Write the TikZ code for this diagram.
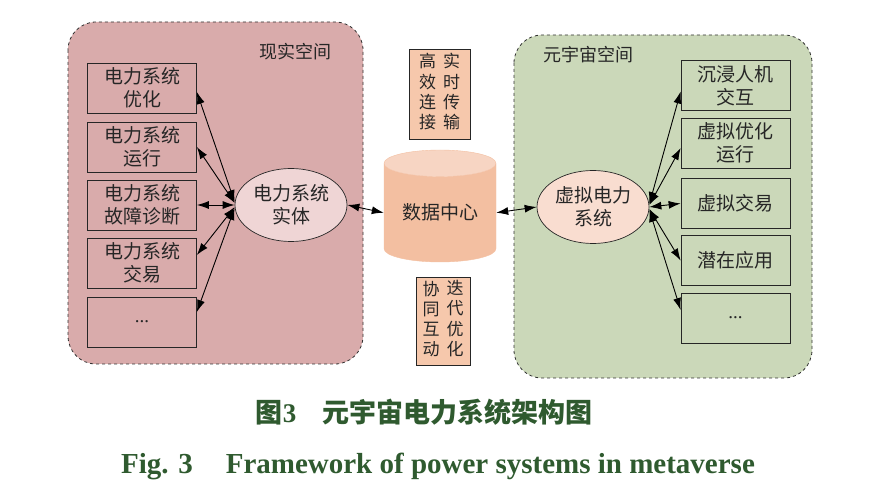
\documentclass[tikz,border=0pt]{standalone}
\usepackage{fontspec}
\setmainfont{Liberation Serif}
\newfontfamily\cjk{Noto Sans CJK SC}
\usetikzlibrary{shapes.geometric,arrows.meta,positioning}
\definecolor{realbg}{HTML}{D9ABAB}
\definecolor{metabg}{HTML}{CBD8B9}
\definecolor{realell}{HTML}{EFD5D5}
\definecolor{metaell}{HTML}{F9DDD0}
\definecolor{dcbody}{HTML}{F3BFA1}
\definecolor{dctop}{HTML}{F7D5C3}
\definecolor{tagfill}{HTML}{F6C8AC}
\definecolor{capgreen}{HTML}{2F5A2F}
\newcommand{\vcol}[1]{\begin{tabular}{@{}c@{}}#1\end{tabular}}
\tikzset{%
	spacebox/.style={draw=black!80, dashed, line width=0.8pt, rounded corners=28pt},
	spacename/.style={font=\cjk\fontsize{18}{22}\selectfont, text=black!85},
	appbox/.style={draw=black!85, line width=0.7pt, align=center, inner sep=0pt, minimum width=109pt, minimum height=50pt, text=black!85, font=\cjk\fontsize{19}{23}\selectfont},
	coreell/.style={ellipse, draw=black!85, line width=0.7pt, align=center, inner sep=0pt, minimum width=112pt, minimum height=73pt, text=black!85, font=\cjk\fontsize{19}{23}\selectfont},
	tagbox/.style={draw=black!85, line width=0.7pt, fill=tagfill, inner sep=0pt, text=black!85, font=\cjk\fontsize{17}{20}\selectfont},
	link/.style={draw=black, line width=0.9pt, {Latex[length=12pt,width=8pt]}-{Latex[length=12pt,width=8pt]}}}

\begin{document}
\begin{tikzpicture}[x=1pt,y=-1pt]
	\useasboundingbox (0,0) rectangle (876,494);
	% the two spaces
	\draw[spacebox, fill=realbg] (68,22) rectangle (363,364);
	\draw[spacebox, fill=metabg] (514,35) rectangle (812,378);
	\node[spacename] (realname) at (295,52) {现实空间};
	\node[spacename] (metaname) at (588,55) {元宇宙空间};
	
	% real space
	\node[appbox] (r1) at (142,88) {电力系统\\优化};
	\node[appbox] (r2) at (142,147) {电力系统\\运行};
	\node[appbox] (r3) at (142,205) {电力系统\\故障诊断};
	\node[appbox] (r4) at (142,263) {电力系统\\交易};
	\node[appbox] (r5) at (142,322) {\rmfamily ...};
	\node[coreell, fill=realell] (entity) at (291,205) {电力系统\\实体};
	
	% data centre
	\node[cylinder, shape border rotate=90, aspect=0.35, draw=dcbody, cylinder uses custom fill, cylinder body fill=dcbody, cylinder end fill=dctop, minimum width=112pt, minimum height=112pt, inner sep=0pt, anchor=shape center, text=black!85, font=\cjk\fontsize{19}{22}\selectfont] (dc) at (440,206) {数据中心};
	\node[tagbox, minimum width=61pt, minimum height=90pt] (tagup) at (439.5,94) {\vcol{高\\效\\连\\接}\hspace{7pt}\vcol{实\\时\\传\\输}};
	\node[tagbox, minimum width=54pt, minimum height=88pt] (tagdown) at (443,321) {\vcol{协\\同\\互\\动}\hspace{7pt}\vcol{迭\\代\\优\\化}};
	
	% metaverse space
	\node[coreell, fill=metaell] (virtual) at (593,207) {虚拟电力\\系统};
	\node[appbox] (m1) at (735.5,85.5) {沉浸人机\\交互};
	\node[appbox] (m2) at (735.5,143) {虚拟优化\\运行};
	\node[appbox] (m3) at (735.5,203.5) {虚拟交易};
	\node[appbox] (m4) at (735.5,260.5) {潜在应用};
	\node[appbox] (m5) at (735.5,318) {\rmfamily ...};
	
	% links
	\draw[link] ([yshift=-4pt]r1.east) -- ([yshift=3pt]entity.west);
	\draw[link] (r2.east) -- ([yshift=2pt]entity.west);
	\draw[link] (r3.east) -- (entity.west);
	\draw[link] ([yshift=8pt]r4.east) -- ([yshift=-2pt]entity.west);
	\draw[link] ([yshift=10pt]r5.east) -- ([yshift=-3pt]entity.west);
	\draw[link] (entity.east) -- (dc.west);
	\draw[link] (dc.east) -- (virtual.west);
	\draw[link] ([yshift=3pt]virtual.east) -- ([yshift=-6pt]m1.west);
	\draw[link] ([yshift=2pt]virtual.east) -- ([yshift=-5pt]m2.west);
	\draw[link] (virtual.east) -- (m3.west);
	\draw[link] ([yshift=-2pt]virtual.east) -- (m4.west);
	\draw[link] ([yshift=-3pt]virtual.east) -- ([yshift=8pt]m5.west);
	
	% caption
	\node[text=capgreen, font=\fontsize{27}{30}\selectfont\bfseries] (capcn) at (424,412) {{\cjk 图}3\hspace{26pt}{\cjk 元宇宙电力系统架构图}};
	\node[text=capgreen, font=\fontsize{29}{32}\selectfont\bfseries] (capen) at (438,466) {Fig. 3\hspace{33pt}Framework of power systems in metaverse};
\end{tikzpicture}
\end{document}
